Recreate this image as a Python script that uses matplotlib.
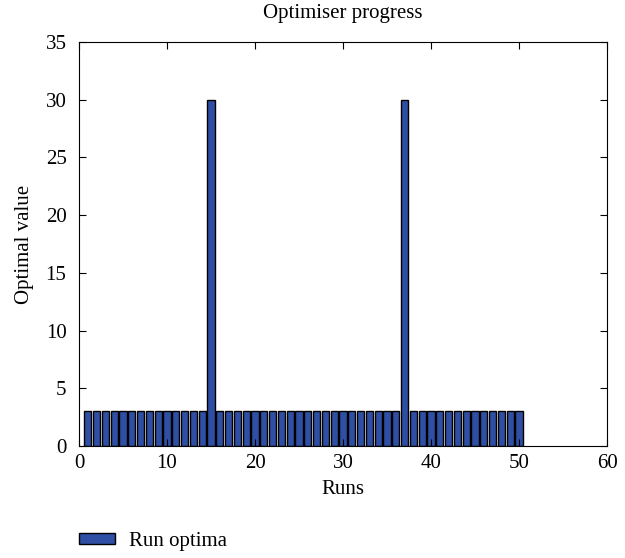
import numpy as np
import matplotlib.pyplot as plt

plt.rcParams['font.family'] = ['Liberation Serif', 'DejaVu Serif']

# Data
runs = np.arange(1, 51)
optima = [3, 3, 3, 3, 3, 3, 3, 3, 3, 3, 3, 3, 3, 3, 30, 3, 3, 3, 3, 3,
          3, 3, 3, 3, 3, 3, 3, 3, 3, 3, 3, 3, 3, 3, 3, 3, 30, 3, 3, 3,
          3, 3, 3, 3, 3, 3, 3, 3, 3, 3]

fig = plt.figure(figsize=(6.25, 5.58), dpi=100)
ax = fig.add_axes([0.1264, 0.2007, 0.8448, 0.724])

ax.bar(runs, optima, width=0.8, color='#2f4fa5', edgecolor='black',
       linewidth=1.0, label='Run optima')

ax.set_xlim(0, 60)
ax.set_ylim(0, 35)
ax.set_xticks(range(0, 61, 10))
ax.set_yticks(range(0, 36, 5))
ax.tick_params(direction='in', top=True, right=True, labelsize=15, length=5)
ax.tick_params(axis='y', pad=9)
ax.tick_params(axis='x', pad=6)
ax.set_xlabel('Runs', fontsize=15, labelpad=5)
ax.set_ylabel('Optimal value', fontsize=15, labelpad=8)
ax.set_title('Optimiser progress', fontsize=15, pad=17)

fig.legend(loc='center left', bbox_to_anchor=(0.1264, 0.029), frameon=False,
           fontsize=15, handlelength=1.75, handleheight=0.45,
           handletextpad=0.65, borderaxespad=0, borderpad=0)

fig.savefig('out.png', dpi=100)
